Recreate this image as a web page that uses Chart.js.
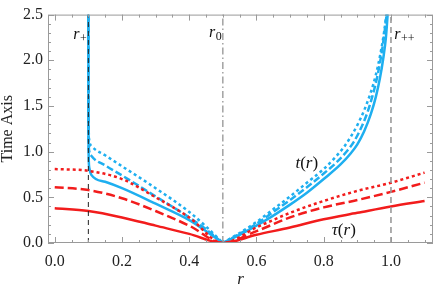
<!DOCTYPE html>
<html>
<head>
<meta charset="utf-8">
<script src="https://cdn.jsdelivr.net/npm/chart.js@4"></script>
<style>
  html, body { margin: 0; padding: 0; background: #fff; }
  #wrap { width: 436px; height: 298px; }
</style>
</head>
<body>
<div id="wrap"><canvas id="timeChart"></canvas></div>
<script>
// === DATA ===
const xTicks = [0.0, 0.2, 0.4, 0.6, 0.8, 1.0];
const yTicks = [0.0, 0.5, 1.0, 1.5, 2.0, 2.5];

// proper time tau(r), red
const tauR = [0.0, 0.1, 0.2, 0.3, 0.4, 0.5, 0.6, 0.7, 0.8, 0.9, 1.0, 1.1];
const tauSolid  = [0.38, 0.35, 0.28, 0.19, 0.10, 0.0, 0.09, 0.17, 0.26, 0.33, 0.40, 0.46];
const tauDashed = [0.61, 0.58, 0.49, 0.35, 0.19, 0.0, 0.13, 0.28, 0.39, 0.47, 0.56, 0.66];
const tauDotted = [0.81, 0.79, 0.70, 0.50, 0.28, 0.0, 0.17, 0.33, 0.46, 0.57, 0.66, 0.77];

// coordinate time t(r), blue, left branch (r+ .. r0)
const tLeftR = [0.1, 0.1003, 0.101, 0.103, 0.11, 0.15, 0.2, 0.3, 0.4, 0.45, 0.5];
const tLeftSolid  = [2.6, 1.40, 0.95, 0.82, 0.74, 0.67, 0.60, 0.43, 0.25, 0.13, 0.0];
const tLeftDashed = [2.6, 1.50, 1.10, 1.00, 0.95, 0.85, 0.74, 0.51, 0.28, 0.15, 0.0];
const tLeftDotted = [2.6, 1.60, 1.25, 1.12, 1.06, 0.96, 0.84, 0.60, 0.34, 0.18, 0.0];

// right branch (r0 .. r++)
const tRightSolidR  = [0.5, 0.55, 0.6, 0.65, 0.7, 0.75, 0.8, 0.85, 0.88, 0.9, 0.92, 0.94, 0.955, 0.967, 0.977, 0.985, 0.992];
const tRightSolid   = [0.0, 0.09, 0.19, 0.30, 0.42, 0.55, 0.70, 0.86, 0.98, 1.08, 1.22, 1.41, 1.60, 1.80, 2.02, 2.25, 2.6];
const tRightDashedR = [0.5, 0.55, 0.6, 0.65, 0.7, 0.75, 0.8, 0.84, 0.87, 0.89, 0.91, 0.93, 0.945, 0.958, 0.97, 0.98, 0.99];
const tRightDashed  = [0.0, 0.10, 0.21, 0.34, 0.47, 0.61, 0.76, 0.89, 1.01, 1.11, 1.25, 1.43, 1.61, 1.80, 2.03, 2.28, 2.6];
const tRightDottedR = [0.5, 0.55, 0.6, 0.65, 0.7, 0.75, 0.8, 0.83, 0.86, 0.88, 0.9, 0.92, 0.94, 0.955, 0.968, 0.98, 0.99];
const tRightDotted  = [0.0, 0.11, 0.23, 0.37, 0.51, 0.66, 0.81, 0.92, 1.05, 1.16, 1.29, 1.45, 1.65, 1.84, 2.06, 2.32, 2.62];

// horizons
const rPlus = 0.1, rZero = 0.5, rPlusPlus = 1.0;

// === HELPERS ===
const BLUE = "#1eaff0";
const RED = "#f21c1c";
const SERIF = "'Liberation Serif', 'DejaVu Serif', serif";

function pts(xs, ys) {
    return xs.map((x, i) => ({ x: x, y: ys[i] }));
}

function curve(xs, ys, color, dash) {
    return {
        data: pts(xs, ys),
        borderColor: color,
        borderWidth: 2.5,
        borderDash: dash,
        pointRadius: 0,
        cubicInterpolationMode: "monotone",
        fill: false,
        clip: 0
    };
}

function vline(x, color, width, dash) {
    return {
        data: [{ x: x, y: 0 }, { x: x, y: 2.5 }],
        borderColor: color,
        borderWidth: width,
        borderDash: dash,
        pointRadius: 0,
        fill: false,
        clip: 0
    };
}

// === FRAME, TICKS AND LABELS ===
const framePlugin = {
    id: "frame",
    afterDraw(chart) {
        const c = chart.ctx;
        const a = chart.chartArea;
        const xs = chart.scales.x, ys = chart.scales.y;
        c.save();
        c.strokeStyle = "#9a9a9a";
        c.lineWidth = 1;
        c.strokeRect(a.left + 0.5, a.top + 0.5, a.right - a.left - 1, a.bottom - a.top - 1);

        c.beginPath();
        for (let i = 0; i <= 22; i++) {
            const v = i * 0.05;
            const px = Math.round(xs.getPixelForValue(v)) + 0.5;
            const len = (i % 4 === 0) ? 6 : 3;
            c.moveTo(px, a.bottom); c.lineTo(px, a.bottom - len);
            c.moveTo(px, a.top); c.lineTo(px, a.top + len);
        }
        for (let i = 0; i <= 25; i++) {
            const v = i * 0.1;
            const py = Math.round(ys.getPixelForValue(v)) + 0.5;
            const len = (i % 5 === 0) ? 6 : 3;
            c.moveTo(a.left, py); c.lineTo(a.left + len, py);
            c.moveTo(a.right, py); c.lineTo(a.right - len, py);
        }
        c.stroke();

        // horizon labels
        c.fillStyle = "#111";
        function sub(main, s, xv, yv) {
            const px = xs.getPixelForValue(xv), py = ys.getPixelForValue(yv);
            c.font = "italic 16px " + SERIF;
            c.fillText(main, px, py);
            const w = c.measureText(main).width;
            c.font = "12px " + SERIF;
            c.fillText(s, px + w + 0.5, py + 3);
        }
        c.textBaseline = "alphabetic";
        sub("r", "+", 0.055, 2.23);
        sub("r", "0", 0.459, 2.26);
        sub("r", "++", 1.01, 2.23);

        function func(name, xv, yv) {
            let px = xs.getPixelForValue(xv);
            const py = ys.getPixelForValue(yv);
            const parts = [[name, "italic "], ["(", ""], ["r", "italic "], [")", ""]];
            parts.forEach(p => {
                c.font = p[1] + "17px " + SERIF;
                c.fillText(p[0], px, py);
                px += c.measureText(p[0]).width;
            });
        }
        func("t", 0.716, 0.82);
        func("τ", 0.824, 0.09);
        c.restore();
    }
};

// === CHART ===
const ctx = document.getElementById("timeChart").getContext("2d");

const chart = new Chart(ctx, {
    type: "line",
    data: {
        datasets: [
            vline(rPlus, "#222", 1, [5, 4]),
            vline(rZero, "#8a8a8a", 1.2, [7, 3, 1.5, 3]),
            vline(rPlusPlus, "#999", 1.6, [6, 4]),
            curve(tauR, tauSolid, RED, []),
            curve(tauR, tauDashed, RED, [9, 4]),
            curve(tauR, tauDotted, RED, [3, 3]),
            curve(tLeftR, tLeftSolid, BLUE, []),
            curve(tLeftR, tLeftDashed, BLUE, [7, 3]),
            curve(tLeftR, tLeftDotted, BLUE, [3, 3]),
            curve(tRightSolidR, tRightSolid, BLUE, []),
            curve(tRightDashedR, tRightDashed, BLUE, [7, 3]),
            curve(tRightDottedR, tRightDotted, BLUE, [3, 3])
        ]
    },
    options: {
        responsive: true,
        maintainAspectRatio: false,
        animation: false,
        layout: { padding: { top: 5, right: 3, left: 0, bottom: 0 } },
        plugins: { legend: { display: false }, tooltip: { enabled: false } },
        scales: {
            x: {
                type: "linear",
                min: -0.02,
                max: 1.125,
                grid: { display: false, drawTicks: false },
                border: { display: false },
                afterBuildTicks: s => { s.ticks = xTicks.map(v => ({ value: v })); },
                afterFit: s => { s.height = 55; },
                ticks: {
                    padding: 9,
                    color: "#222",
                    font: { family: SERIF, size: 16 },
                    callback: v => Number(v).toFixed(1)
                },
                title: {
                    display: true,
                    text: "r",
                    color: "#222",
                    font: { family: SERIF, size: 17, style: "italic", lineHeight: 1 },
                    padding: { top: 0, bottom: 10 }
                }
            },
            y: {
                type: "linear",
                min: 0,
                max: 2.5,
                grid: { display: false, drawTicks: false },
                border: { display: false },
                afterBuildTicks: s => { s.ticks = yTicks.map(v => ({ value: v })); },
                afterFit: s => { s.width = 48; },
                ticks: {
                    padding: 5,
                    color: "#222",
                    font: { family: SERIF, size: 16 },
                    callback: v => Number(v).toFixed(1)
                },
                title: {
                    display: true,
                    text: "Time Axis",
                    color: "#222",
                    font: { family: SERIF, size: 16, lineHeight: 1 },
                    padding: { top: 0, bottom: 0 }
                }
            }
        }
    },
    plugins: [framePlugin]
});
</script>
</body>
</html>
